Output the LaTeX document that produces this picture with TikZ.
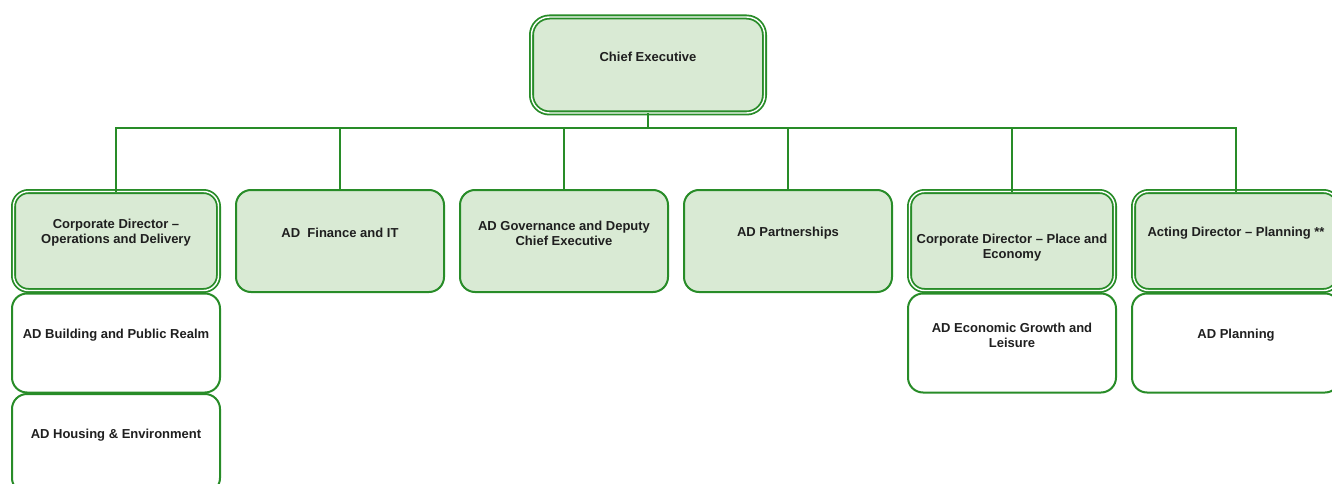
\documentclass[tikz,border=0pt]{standalone}
\usepackage{fontspec}
\setmainfont{Liberation Sans}
\usetikzlibrary{positioning}

\definecolor{orggreen}{RGB}{40,140,40}
\definecolor{orgfill}{RGB}{217,234,212}

\begin{document}
\begin{tikzpicture}[x=1pt, y=1pt,
  box/.style={draw=orggreen, line width=2pt, rounded corners=15pt, outer sep=0pt,
    minimum width=208pt, minimum height=102pt, inner sep=0pt},
  lead/.style={box, fill=orgfill},
  dlead/.style={lead, double=white, line width=1.8pt, double distance=1.4pt,
    minimum width=205pt, minimum height=99pt},
  sub/.style={box, fill=white, minimum height=99pt},
  tx/.style={font=\bfseries\fontsize{13}{15}\selectfont, text=black!88, align=center, yshift=8pt},
  link/.style={draw=orggreen, line width=1.8pt}
]

\useasboundingbox (0,0) rectangle (1332,-484);

\node[dlead, minimum width=233pt, minimum height=96pt, rounded corners=18pt,
  label={[tx]center:Chief Executive}] (ce) at (648,-65) {};
\coordinate (bus) at (648,-128);

% directors
\node[dlead, label={[tx]center:Corporate Director --\\Operations and Delivery}] (cdod) at (116,-241) {};
\node[lead, label={[tx]center:AD\ \ Finance and IT}] (adfin) at (340,-241) {};
\node[lead, label={[tx]center:AD Governance and Deputy\\Chief Executive}] (adgov) at (564,-241) {};
\node[lead, label={[tx]center:AD Partnerships}] (adpart) at (788,-241) {};
\node[dlead, label={[tx, yshift=-15pt]center:Corporate Director -- Place and\\Economy}] (cdpe) at (1012,-241) {};
\node[dlead, label={[tx]center:Acting Director -- Planning **}] (actdir) at (1236,-241) {};

% assistant directors
\node[sub, below=3pt of cdod, label={[tx]center:AD Building and Public Realm}] (adbuild) {};
\node[sub, below=1.5pt of adbuild, label={[tx]center:AD Housing \& Environment}] (adhouse) {};
\node[sub, below=3pt of cdpe, label={[tx]center:AD Economic Growth and\\Leisure}] (adecon) {};
\node[sub, below=3pt of actdir, label={[tx]center:AD Planning}] (adplan) {};

\draw[link] (ce) -- (bus);
\foreach \n in {cdod,adfin,adgov,adpart,cdpe,actdir}
  \draw[link] (bus) -| (\n.north);

\end{tikzpicture}
\end{document}
